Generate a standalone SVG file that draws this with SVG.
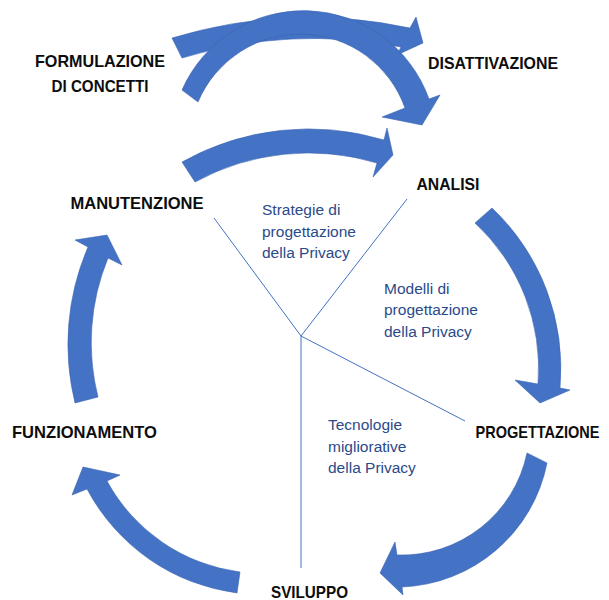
<svg xmlns="http://www.w3.org/2000/svg" width="609" height="600" viewBox="0 0 609 600">
<style>
.bg{fill:#ffffff}
.arr{fill:#4472C4;stroke:#3A64B2;stroke-width:0.6;stroke-linejoin:miter}
.ln{stroke:#4472C4;stroke-width:1;fill:none}
.lbl{font-family:"Liberation Sans",Arial,sans-serif;font-weight:bold;font-size:16.5px;fill:#0d0d0d}
.sub{font-family:"Liberation Sans",Arial,sans-serif;font-size:15.5px;fill:#2B4A8A}
</style>
<rect class="bg" x="0" y="0" width="609" height="600"/>
<g id="connectors">
  <path id="arr-formulazione-disattivazione" class="arr" d="M172,38 A479,479 0 0 1 410,28 L416,17 L423,43 L397,55 L401,47 A458,458 0 0 0 182,58 Z"/>
  <path id="arr-formulazione-analisi" class="arr" d="M182,90 A133,133 0 0 1 429,99 L440,95 L422,125 L382,117 L405,108 A111,111 0 0 0 198,102 Z"/>
  <path id="arr-manutenzione-analisi" class="arr" d="M182,162 A260,260 0 0 1 384,140 L387,128 L393,155 L373,177 L377,163 A237,237 0 0 0 195,182 Z"/>
  <path id="arr-analisi-progettazione" class="arr" d="M492,208 A221,221 0 0 1 560,388 L570,390 L540,403 L515,380 L538,384 A198,198 0 0 0 475,223 Z"/>
  <path id="arr-progettazione-sviluppo" class="arr" d="M547,463 A154,154 0 0 1 402,587 L403,595 L380,573 L395,542 L397,555 A128,128 0 0 0 527,453 Z"/>
  <path id="arr-sviluppo-funzionamento" class="arr" d="M237,593 A199,199 0 0 1 87,489 L72,495 L83,467 L120,475 L107,481 A177,177 0 0 0 240,572 Z"/>
  <path id="arr-funzionamento-manutenzione" class="arr" d="M75,403 A246,246 0 0 1 88,247 L75,240 L107,235 L122,265 L108,258 A222,222 0 0 0 98,397 Z"/>
  <line class="ln" x1="301" y1="336" x2="214" y2="218"/>
  <line class="ln" x1="301" y1="336" x2="407" y2="199"/>
  <line class="ln" x1="301" y1="336" x2="465" y2="421"/>
  <line class="ln" x1="301" y1="336" x2="301" y2="568"/>
</g>
<g id="node-formulazione"><text class="lbl" x="35" y="66.5" textLength="130" lengthAdjust="spacingAndGlyphs">FORMULAZIONE</text><text class="lbl" x="51.5" y="91.5" textLength="97" lengthAdjust="spacingAndGlyphs">DI CONCETTI</text></g>
<g id="node-disattivazione"><text class="lbl" x="428" y="69" textLength="130" lengthAdjust="spacingAndGlyphs">DISATTIVAZIONE</text></g>
<g id="node-analisi"><text class="lbl" x="416.5" y="189.5" textLength="63" lengthAdjust="spacingAndGlyphs">ANALISI</text></g>
<g id="node-manutenzione"><text class="lbl" x="70.5" y="209" textLength="133" lengthAdjust="spacingAndGlyphs">MANUTENZIONE</text></g>
<g id="node-funzionamento"><text class="lbl" x="12" y="438.3" textLength="145" lengthAdjust="spacingAndGlyphs">FUNZIONAMENTO</text></g>
<g id="node-progettazione"><text class="lbl" transform="translate(475.5,438.3) scale(0.88,1)" x="0" y="0">PROGETTAZIONE</text></g>
<g id="node-sviluppo"><text class="lbl" x="271" y="598" textLength="77" lengthAdjust="spacingAndGlyphs">SVILUPPO</text></g>
<g id="node-strategie"><text class="sub" x="262" y="215">Strategie di</text><text class="sub" x="262" y="236.5">progettazione</text><text class="sub" x="262" y="258">della Privacy</text></g>
<g id="node-modelli"><text class="sub" x="384" y="293.5">Modelli di</text><text class="sub" x="384" y="315">progettazione</text><text class="sub" x="384" y="336.5">della Privacy</text></g>
<g id="node-tecnologie"><text class="sub" x="328" y="430">Tecnologie</text><text class="sub" x="328" y="451.5">migliorative</text><text class="sub" x="328" y="473">della Privacy</text></g>
</svg>
